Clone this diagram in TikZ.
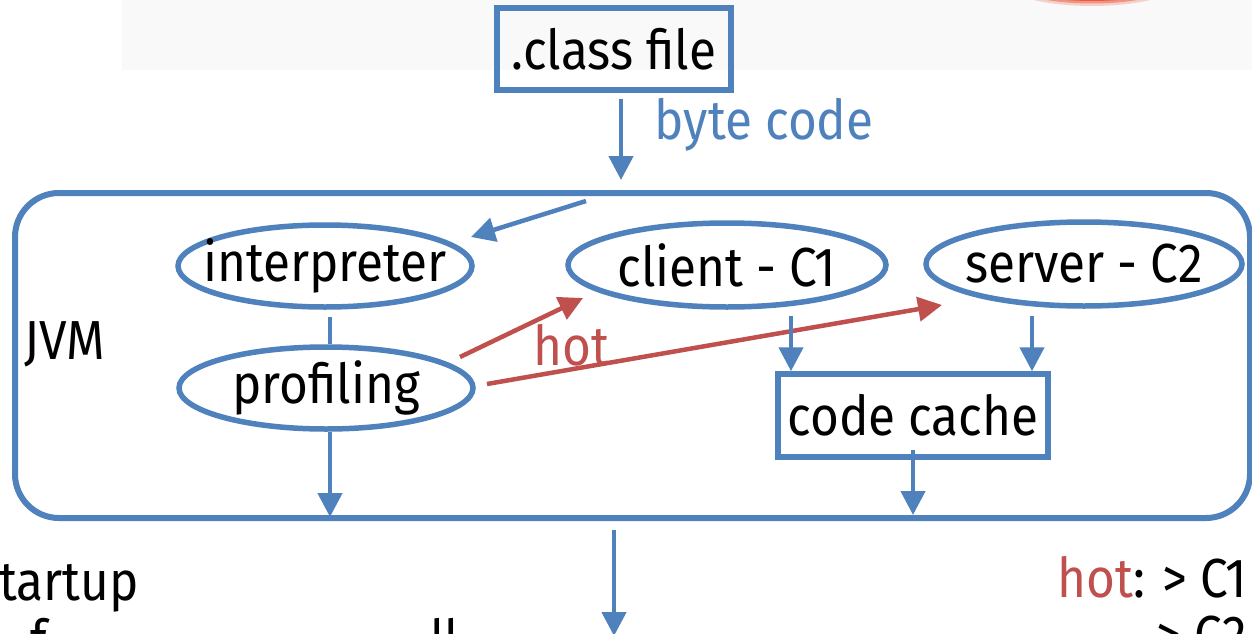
\documentclass[tikz,border=0pt]{standalone}
\usepackage{fontspec}
\setmainfont[FakeStretch=0.9]{Fira Sans}
\usetikzlibrary{arrows.meta,shapes.geometric}
\definecolor{jblue}{RGB}{79,129,189}
\definecolor{jred}{RGB}{192,80,77}
\definecolor{blob}{RGB}{236,88,62}
\tikzset{
  txt/.style={font=\fontsize{55}{60}\selectfont, inner sep=0pt},
  boxnode/.style={txt, draw=jblue, line width=5.5pt, rectangle},
  ovalnode/.style={draw=jblue, line width=5.5pt, ellipse, inner sep=0pt, label={[txt]center:#1}},
  flow/.style={draw=jblue, line width=4.5pt, -{Triangle[length=24pt,width=24pt]}},
  hotflow/.style={draw=jred, line width=4.5pt, -{Triangle[length=24pt,width=24pt]}},
  plain/.style={draw=jblue, line width=4.5pt},
}
\begin{document}
\begin{tikzpicture}[x=1pt,y=-1pt]
\useasboundingbox (0,0) rectangle (1252,634);
\clip (0,0) rectangle (1252,634);
\fill[white] (0,0) rectangle (1252,634);
% faint header panel and the soft red shape above it
\fill[black!2.5] (122,0) rectangle (1252,70);
\fill[blob,opacity=0.25] (1092,-30) ellipse (106 and 36);
\fill[blob,opacity=0.5] (1092,-30) ellipse (102 and 33.5);
\fill[blob] (1092,-30) ellipse (98 and 31);

% source file
\node[boxnode, minimum width=234pt, minimum height=82pt] (cls) at (614,49) {.class file};
\node[txt, text=jblue] (bc) at (764,125) {byte code};

% JVM container
\node[draw=jblue, line width=6pt, rounded corners=44pt, minimum width=1235pt, minimum height=325pt, inner sep=0pt] (jvm) at (632.5,355.5) {};
\node[txt] (jvmlbl) at (65,344) {JVM};

% execution engines
\node[ovalnode=interpreter, minimum width=294pt, minimum height=82pt] (interp) at (325,266) {};
\node[ovalnode=profiling, minimum width=294pt, minimum height=82pt] (prof) at (326,388) {};
\node[ovalnode={client - C1}, minimum width=318pt, minimum height=84pt] (client) at (727,265) {};
\node[ovalnode={server - C2}, minimum width=316pt, minimum height=84pt] (server) at (1084,264) {};
\node[boxnode, minimum width=270pt, minimum height=83pt] (cache) at (913,415.5) {code cache};
\node[txt, text=jred] (hotlbl) at (571,345) {hot};

% connectors
\coordinate (entry) at (586,201);
\coordinate (out) at (614,636);
\draw[flow] ([shift={(7,6)}]cls.south) -- ([shift={(-11.5,-10)}]jvm.north);
\draw[flow] (entry) -- ([shift={(146,-29)}]interp.center);
\draw[plain] ([shift={(5,7)}]interp.south) -- ([xshift=4]prof.north);
\draw[flow, shorten >=4pt] ([xshift=4]prof.south) -- ([xshift=4]prof.south |- jvm.south);
\draw[hotflow] ([shift={(134,-31)}]prof.center) -- ([shift={(-144,33)}]client.center);
\draw[hotflow] ([shift={(161,-4)}]prof.center) -- ([shift={(-142,41)}]server.center);
\draw[flow] ([shift={(64,6)}]client.south) -- ([xshift=64]client.south |- cache.north);
\draw[flow] ([shift={(-52,7)}]server.south) -- ([xshift=-52]server.south |- cache.north);
\draw[flow, shorten >=6pt] ([yshift=10]cache.south) -- (cache.south |- jvm.south);
\draw[flow] ([shift={(-18.5,9)}]jvm.south) -- (out);

% notes below the JVM
\node[txt, anchor=base west] (n1) at (-1,600) {tartup};
\node[txt, anchor=base west] (n2) at (30,659) {f};
\node[txt, anchor=base west] (n3) at (430,659) {ll};
\node[txt, anchor=base east] (r1) at (1247,597) {\textcolor{jred}{hot}: > C1};
\node[txt, anchor=base east] (r2) at (1247,654) {> C2};
\end{tikzpicture}
\end{document}
